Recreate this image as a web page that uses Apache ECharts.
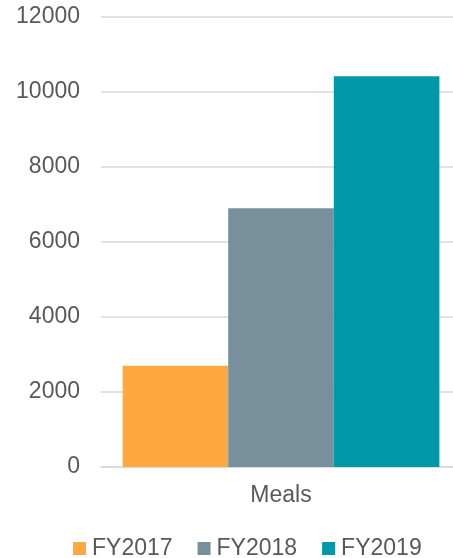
<!DOCTYPE html>
<html>
<head>
<meta charset="utf-8">
<script src="https://cdn.jsdelivr.net/npm/echarts@6/dist/echarts.min.js"></script>
<style>html,body{margin:0;padding:0;background:#fff;overflow:hidden;}#c{width:461px;height:558px;}</style>
</head>
<body>
<div id="c"></div>
<script>
const categories = ['Meals'];
const seriesNames = ['FY2017', 'FY2018', 'FY2019'];
const fy2017 = [2700];
const fy2018 = [6900];
const fy2019 = [10420];
const colors = ['#FFA940', '#78909C', '#0198A8'];

const chart = echarts.init(document.getElementById('c'), null, {renderer: 'canvas'});
const font = 'Liberation Sans, Arial, sans-serif';
chart.setOption({
  animation: false,
  color: colors,
  textStyle: {fontFamily: font},
  legend: {
    left: 68, top: 532,
    itemWidth: 13, itemHeight: 13, itemGap: 25,
    icon: 'rect',
    textStyle: {fontSize: 23, color: '#595959', fontFamily: font, padding: [0,0,0,1]},
    data: seriesNames
  },
  grid: {left: 101, right: 0, top: 17, bottom: 91, containLabel: false},
  xAxis: {
    type: 'category', data: categories,
    axisTick: {show: false},
    axisLine: {lineStyle: {color: '#d9d9d9', width: 1.5}},
    axisLabel: {fontSize: 23, color: '#595959', margin: 17, fontFamily: font}
  },
  yAxis: {
    type: 'value', min: 0, max: 12000, interval: 2000,
    axisLine: {show: false}, axisTick: {show: false},
    splitLine: {lineStyle: {color: '#d9d9d9', width: 1.5}},
    axisLabel: {fontSize: 23, color: '#595959', margin: 21, fontFamily: font, formatter: v => String(v)}
  },
  series: [
    {name: seriesNames[0], type: 'bar', data: fy2017, barGap: '0%', barCategoryGap: '12%'},
    {name: seriesNames[1], type: 'bar', data: fy2018, barGap: '0%', barCategoryGap: '12%'},
    {name: seriesNames[2], type: 'bar', data: fy2019, barGap: '0%', barCategoryGap: '12%'}
  ]
});
</script>
</body>
</html>
